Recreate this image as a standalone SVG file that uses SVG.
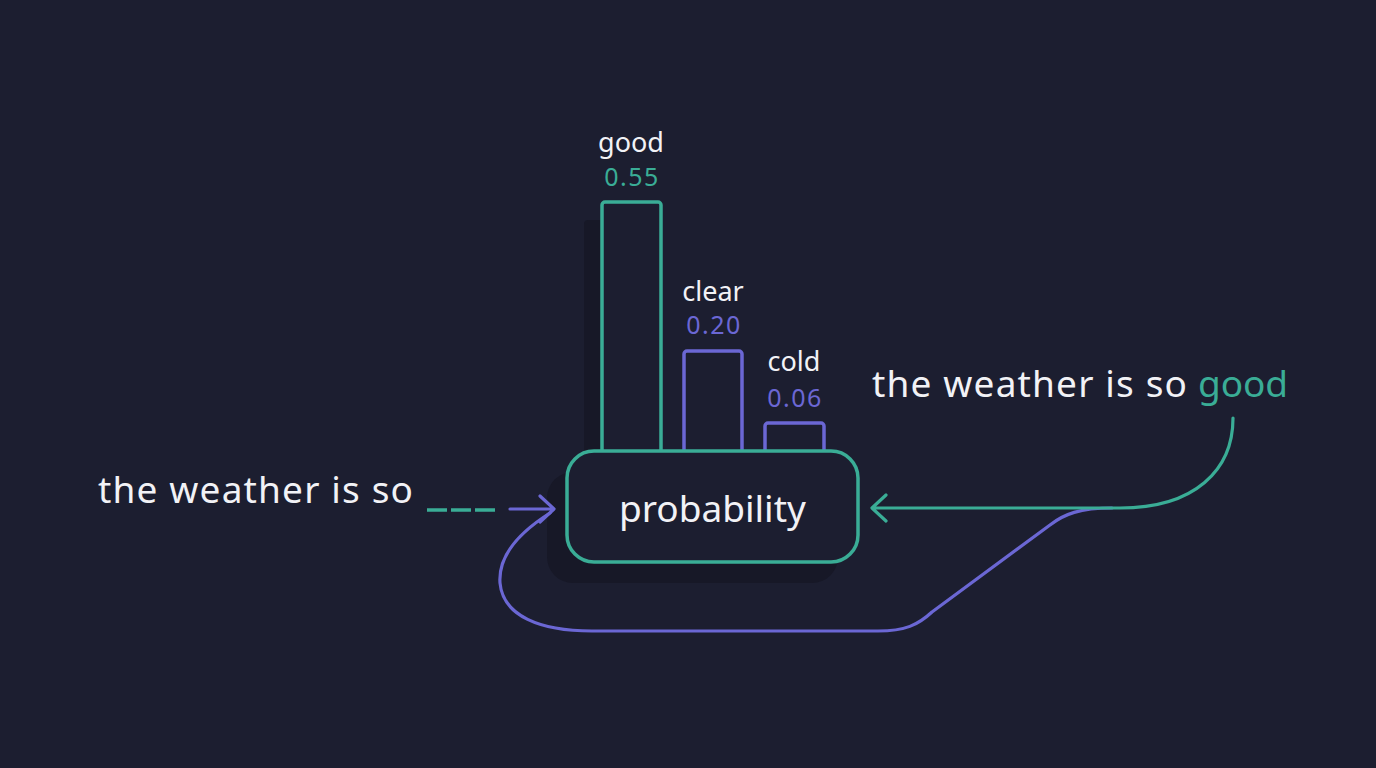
<svg xmlns="http://www.w3.org/2000/svg" width="1376" height="768" viewBox="0 0 1376 768">
<defs>
<style>
.lbl{font-family:"Noto Sans","Open Sans",sans-serif;font-size:27px;fill:#f2f2f6;text-anchor:middle}
.num{font-family:"Noto Sans","Open Sans",sans-serif;font-size:25px;letter-spacing:1.5px;text-anchor:middle}
.big{font-family:"Noto Sans","Open Sans",sans-serif;font-size:37px;fill:#f2f2f6}
.teal{stroke:#3aad96}
.purp{stroke:#6b67d4}
.bar{fill:#1c1e30;stroke-width:3.5}
.shadow{fill:#171827}
.conn{fill:none;stroke-width:3.2;stroke-linecap:round;stroke-linejoin:round}
</style>
</defs>
<rect width="1376" height="768" fill="#1c1e30"/>
<g id="shadows">
<rect class="shadow" x="584" y="220" width="60" height="260" rx="4"/>
<rect class="shadow" x="547" y="472" width="291" height="111" rx="26"/>
</g>
<g id="bar-good">
<rect class="bar teal" x="602" y="202" width="59" height="262" rx="3"/>
<text class="lbl" x="631" y="152">good</text>
<text class="num" x="632" y="186" fill="#3aad96">0.55</text>
</g>
<g id="bar-clear">
<rect class="bar purp" x="684" y="351" width="58" height="113" rx="3"/>
<text class="lbl" x="713" y="301">clear</text>
<text class="num" x="714" y="334" fill="#6b67d4">0.20</text>
</g>
<g id="bar-cold">
<rect class="bar purp" x="765" y="423" width="59" height="41" rx="3"/>
<text class="lbl" x="794" y="371">cold</text>
<text class="num" x="795" y="407" fill="#6b67d4">0.06</text>
</g>
<g id="probability">
<rect x="567" y="451" width="291" height="111" rx="27" fill="#1c1e30" stroke="#3aad96" stroke-width="3.5"/>
<text class="big" x="712.5" y="522" text-anchor="middle" font-size="38">probability</text>
</g>
<g id="input">
<text class="big" x="98" y="503" textLength="315" lengthAdjust="spacing">the weather is so</text>
<line x1="427" y1="510" x2="495" y2="510" stroke="#3aad96" stroke-width="3.5" stroke-dasharray="20 4"/>
</g>
<g id="output">
<text class="big" x="872" y="397"><tspan textLength="315" lengthAdjust="spacing">the weather is so</tspan> <tspan x="1198" fill="#3aad96" textLength="90" lengthAdjust="spacing">good</tspan></text>
</g>
<g id="connectors">
<path class="conn purp" d="M510 509 L553 509 M540 496 L554 509 L540 522"/>
<path class="conn purp" d="M550 513 C520 532 498 555 500 583 C503 616 540 631 592 631 L878 631 C905 631 918 625 932 612 L1050 525 C1064 514 1080 508 1112 508"/>
<path class="conn teal" d="M1233 418 C1233 470 1195 508 1120 508 L873 508 M886 495 L872 508 L886 521"/>
</g>
</svg>
